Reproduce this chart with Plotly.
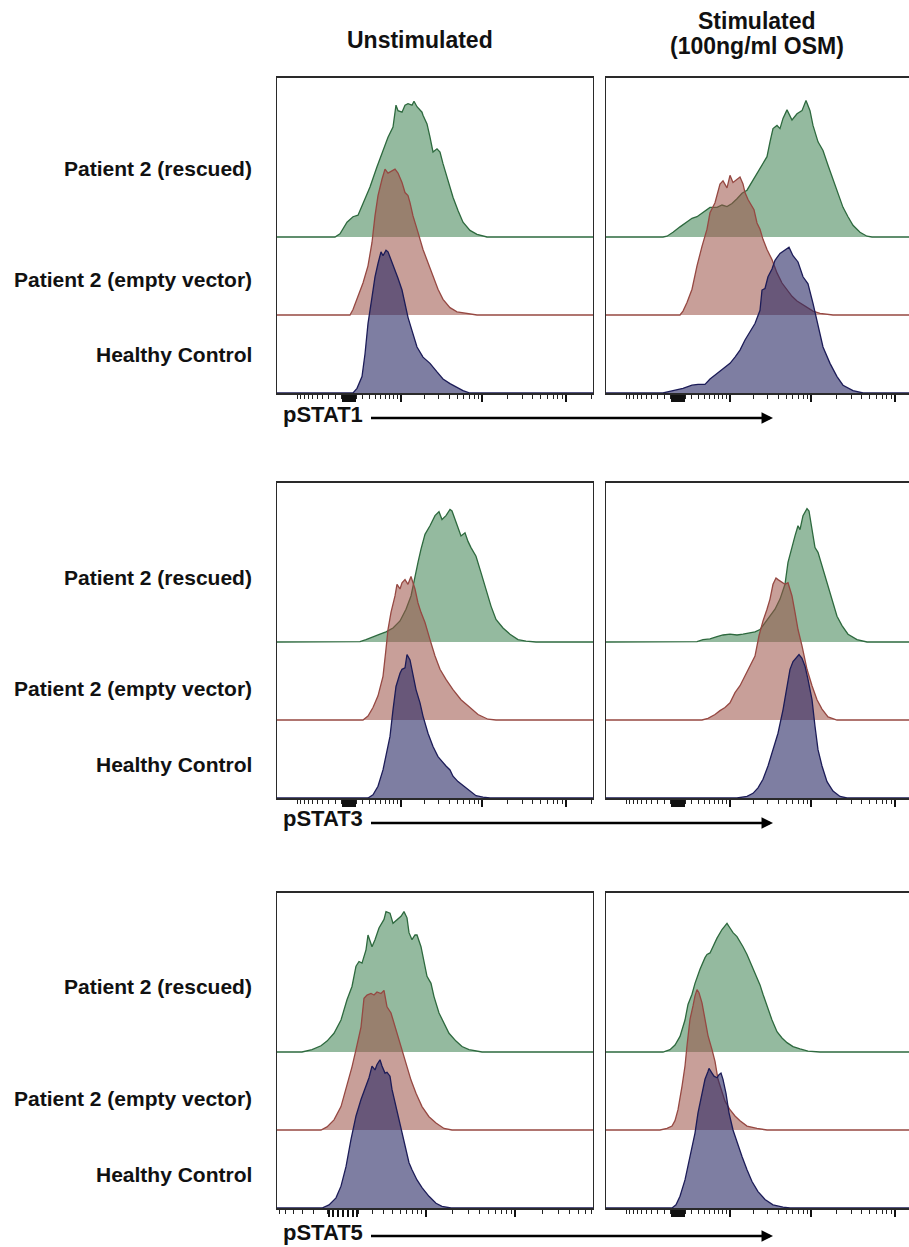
import numpy as np
import plotly.graph_objects as go

# ---------------- data (x = display position across panel, h = histogram height, band units) -------------
COLUMN_TITLES = ["Unstimulated", "Stimulated", "(100ng/ml OSM)"]
ROW_LABELS = ["Patient 2 (rescued)", "Patient 2 (empty vector)", "Healthy Control"]
MARKERS = ["pSTAT1", "pSTAT3", "pSTAT5"]

# pSTAT1 unstimulated
R1U_GREEN_X = [58, 63, 70, 76, 81, 86, 93, 100, 106, 111, 116, 119, 121, 125, 128, 131, 135, 137, 140, 145, 146, 150, 153, 156, 160, 163, 166, 171, 176, 181, 186, 193, 200, 210]
R1U_GREEN_H = [0, .04, .19, .26, .28, .43, .64, .90, 1.11, 1.28, 1.41, 1.69, 1.62, 1.60, 1.69, 1.71, 1.69, 1.74, 1.67, 1.60, 1.56, 1.45, 1.28, 1.09, 1.13, 1.09, .94, .73, .51, .34, .19, .085, .034, 0]
R1U_RED_X = [73, 76, 81, 86, 91, 95, 98, 101, 105, 108, 111, 115, 118, 121, 125, 128, 131, 133, 136, 141, 146, 151, 156, 161, 166, 173, 180, 193, 200]
R1U_RED_H = [0, .07, .24, .41, .63, .93, 1.27, 1.53, 1.74, 1.87, 1.82, 1.85, 1.87, 1.82, 1.70, 1.57, 1.53, 1.44, 1.27, 1.06, .84, .67, .50, .33, .20, .094, .04, .01, 0]
R1U_BLUE_X = [76, 80, 85, 88, 91, 95, 98, 101, 104, 106, 109, 111, 115, 118, 121, 125, 128, 131, 135, 140, 146, 153, 160, 166, 173, 180, 186, 193]
R1U_BLUE_H = [0, .06, .21, .50, .89, 1.23, 1.49, 1.66, 1.81, 1.76, 1.83, 1.81, 1.68, 1.57, 1.47, 1.32, 1.15, .97, .80, .59, .46, .38, .27, .18, .12, .07, .03, 0]

# pSTAT1 stimulated
R1S_GREEN_X = [57, 61, 67, 74, 81, 86, 91, 97, 104, 111, 116, 121, 126, 131, 136, 141, 146, 151, 156, 161, 164, 167, 171, 174, 177, 181, 186, 191, 196, 200, 204, 207, 212, 217, 222, 227, 232, 237, 242, 247, 254, 261, 266]
R1S_GREEN_H = [0, .01, .06, .13, .19, .24, .26, .32, .38, .38, .41, .39, .43, .49, .56, .60, .71, .81, .92, 1.03, 1.22, 1.39, 1.43, 1.39, 1.52, 1.63, 1.50, 1.58, 1.62, 1.75, 1.62, 1.43, 1.22, 1.11, .92, .73, .56, .38, .26, .15, .06, .01, 0]
R1S_RED_X = [74, 77, 81, 86, 91, 96, 101, 104, 109, 114, 117, 121, 124, 127, 131, 134, 137, 139, 142, 146, 148, 151, 154, 157, 161, 166, 171, 176, 181, 186, 191, 196, 201, 207, 214, 227]
R1S_RED_H = [0, .05, .16, .33, .63, .88, 1.10, 1.31, 1.44, 1.68, 1.72, 1.63, 1.79, 1.70, 1.74, 1.77, 1.68, 1.57, 1.48, 1.38, 1.35, 1.18, 1.10, .97, .84, .71, .54, .41, .33, .24, .18, .14, .09, .05, .02, 0]
R1S_BLUE_X = [57, 67, 77, 86, 92, 99, 104, 111, 117, 124, 129, 134, 139, 144, 149, 154, 156, 159, 162, 166, 169, 174, 179, 183, 187, 192, 197, 202, 207, 212, 217, 224, 231, 237, 247, 257]
R1S_BLUE_H = [0, .03, .06, .10, .11, .11, .18, .25, .31, .38, .46, .55, .68, .78, .89, 1.06, 1.32, 1.34, 1.49, 1.59, 1.70, 1.79, 1.83, 1.87, 1.76, 1.68, 1.49, 1.40, 1.15, .85, .59, .38, .21, .10, .03, 0]

# pSTAT3 unstimulated
R2U_GREEN_X = [79, 83, 89, 96, 103, 109, 116, 123, 129, 134, 138, 141, 144, 148, 153, 158, 162, 165, 169, 173, 175, 178, 181, 184, 188, 191, 194, 199, 204, 209, 214, 219, 226, 233, 241, 249, 259]
R2U_GREEN_H = [0, .004, .03, .07, .10, .13, .18, .27, .42, .59, .85, 1.02, 1.19, 1.38, 1.49, 1.62, 1.67, 1.57, 1.62, 1.70, 1.68, 1.57, 1.47, 1.36, 1.40, 1.29, 1.21, 1.10, .89, .68, .46, .29, .18, .10, .03, .01, 0]
R2U_RED_X = [86, 91, 96, 101, 106, 109, 111, 114, 118, 120, 123, 125, 128, 131, 134, 138, 141, 144, 148, 153, 158, 163, 169, 176, 184, 193, 201, 211, 219]
R2U_RED_H = [0, .05, .16, .31, .56, .91, 1.16, 1.38, 1.59, 1.74, 1.68, 1.76, 1.80, 1.74, 1.84, 1.68, 1.50, 1.38, 1.25, 1.03, .82, .65, .52, .39, .26, .16, .07, .01, 0]
R2U_BLUE_X = [91, 96, 101, 106, 109, 113, 116, 119, 123, 125, 128, 130, 133, 136, 139, 143, 146, 151, 156, 161, 166, 169, 173, 176, 181, 186, 193, 199, 206, 213]
R2U_BLUE_H = [0, .04, .15, .36, .53, .79, 1.13, 1.43, 1.60, 1.65, 1.67, 1.84, 1.77, 1.56, 1.39, 1.22, 1.05, .83, .66, .53, .45, .41, .36, .28, .21, .16, .09, .03, .01, 0]

# pSTAT3 stimulated
R2S_GREEN_X = [87, 91, 97, 104, 111, 117, 124, 131, 137, 144, 149, 154, 159, 164, 169, 174, 179, 182, 186, 189, 192, 194, 197, 201, 203, 206, 209, 212, 216, 221, 226, 231, 236, 242, 251, 261]
R2S_GREEN_H = [0, .004, .03, .04, .07, .09, .10, .09, .10, .12, .13, .16, .25, .33, .42, .55, .74, 1.02, 1.23, 1.36, 1.49, 1.44, 1.62, 1.71, 1.68, 1.44, 1.21, 1.15, .97, .76, .53, .33, .21, .10, .03, 0]
R2S_RED_X = [96, 102, 109, 114, 119, 124, 129, 134, 139, 144, 149, 153, 157, 161, 164, 167, 170, 172, 176, 179, 182, 186, 189, 192, 196, 201, 206, 211, 216, 222, 231]
R2S_RED_H = [0, .02, .07, .12, .16, .22, .35, .44, .56, .69, .82, 1.08, 1.27, 1.42, 1.55, 1.74, 1.82, 1.80, 1.76, 1.74, 1.76, 1.59, 1.38, 1.16, .95, .65, .44, .26, .14, .04, 0]
R2S_BLUE_X = [131, 141, 147, 152, 157, 162, 167, 172, 177, 181, 184, 187, 191, 193, 196, 199, 202, 206, 209, 212, 216, 221, 227, 234, 241]
R2S_BLUE_H = [0, .02, .06, .13, .24, .41, .62, .83, 1.13, 1.43, 1.65, 1.75, 1.82, 1.84, 1.79, 1.69, 1.52, 1.26, .92, .62, .41, .21, .09, .02, 0]

# pSTAT5 unstimulated
R3U_GREEN_X = [25, 35, 44, 50, 57, 64, 70, 75, 79, 82, 85, 89, 91, 95, 98, 102, 107, 109, 113, 116, 119, 124, 127, 130, 132, 135, 138, 140, 144, 147, 150, 154, 157, 162, 167, 172, 179, 185, 192, 205]
R3U_GREEN_H = [0, .03, .08, .14, .24, .41, .67, .84, 1.10, 1.16, 1.14, 1.31, 1.50, 1.35, 1.44, 1.59, 1.70, 1.80, 1.78, 1.65, 1.68, 1.74, 1.80, 1.72, 1.53, 1.44, 1.50, 1.50, 1.35, 1.14, .97, .88, .71, .50, .37, .24, .14, .07, .03, 0]
R3U_RED_X = [44, 50, 57, 64, 70, 75, 79, 84, 87, 90, 94, 97, 100, 104, 107, 110, 114, 117, 120, 124, 129, 134, 139, 145, 152, 159, 167, 175]
R3U_RED_H = [0, .04, .13, .30, .56, .81, 1.03, 1.32, 1.69, 1.73, 1.75, 1.73, 1.77, 1.75, 1.79, 1.58, 1.50, 1.37, 1.24, 1.07, .85, .64, .47, .30, .17, .09, .02, 0]
R3U_BLUE_X = [45, 52, 59, 64, 69, 74, 79, 84, 89, 92, 95, 98, 100, 103, 105, 108, 110, 113, 115, 119, 122, 125, 129, 132, 135, 140, 145, 152, 159, 165, 174]
R3U_BLUE_H = [0, .04, .13, .28, .53, .88, 1.18, 1.39, 1.56, 1.67, 1.82, 1.77, 1.84, 1.90, 1.82, 1.73, 1.74, 1.69, 1.52, 1.30, 1.13, .96, .75, .58, .49, .36, .26, .15, .06, .02, 0]

# pSTAT5 stimulated
R3S_GREEN_X = [57, 64, 69, 74, 79, 82, 86, 89, 94, 99, 101, 104, 107, 111, 116, 121, 124, 127, 131, 134, 137, 141, 144, 147, 151, 154, 157, 161, 166, 171, 176, 181, 187, 194, 202, 214]
R3S_GREEN_H = [0, .03, .09, .20, .41, .61, .74, .88, 1.06, 1.21, 1.25, 1.27, 1.35, 1.46, 1.57, 1.65, 1.59, 1.53, 1.48, 1.42, 1.35, 1.25, 1.16, 1.08, .97, .86, .74, .59, .41, .26, .18, .12, .07, .04, .01, 0]
R3S_RED_X = [54, 61, 66, 69, 72, 76, 79, 81, 84, 87, 89, 91, 93, 96, 99, 102, 106, 109, 112, 116, 119, 124, 129, 134, 141, 151, 161]
R3S_RED_H = [0, .02, .05, .12, .26, .56, .82, 1.08, 1.42, 1.59, 1.72, 1.80, 1.76, 1.63, 1.42, 1.21, 1.03, .88, .65, .48, .37, .26, .18, .12, .05, .02, 0]
R3S_BLUE_X = [66, 70, 74, 79, 84, 89, 92, 96, 99, 102, 103, 106, 108, 111, 113, 115, 117, 120, 123, 127, 129, 132, 136, 141, 146, 152, 159, 167, 177, 184]
R3S_BLUE_H = [0, .04, .15, .36, .66, .96, 1.22, 1.47, 1.65, 1.75, 1.79, 1.73, 1.69, 1.67, 1.71, 1.73, 1.65, 1.47, 1.22, 1.00, .92, .79, .66, .49, .34, .21, .11, .04, .01, 0]

# biexponential axis tick values (fluorescence units)
MAJOR_TICK_VALUES = [1e3, 1e4, 1e5]
NEAR_ZERO_TICKS = [-90, -60, -30, 0, 30, 60, 90]
TICK_MULTIPLIERS = [1, 2, 3, 4, 5, 6, 7, 8, 9]
TICK_DECADES = [100, 1000, 10000, 100000]

# ---------------- styling / layout -------------
FIG_W, FIG_H = 909, 1247
FONT = "Liberation Sans, Arial, Helvetica, sans-serif"
ROW_PIX = [(78, 393), (483, 798), (893, 1208)]
COL_PIX = [(277, 593), (606, 909)]
BAND = 78.0
STYLES = [  # green (top), red (middle), blue (bottom)
    dict(base=2, line="rgb(45,105,62)", fill="rgba(60,130,80,0.55)"),
    dict(base=1, line="rgb(150,72,66)", fill="rgba(155,80,70,0.55)"),
    dict(base=0, line="rgb(28,28,88)", fill="rgba(40,40,100,0.6)"),
]
# biexponential display params per panel: zero position, scale, linear width
AXIS_STD = (72.0, 36.3, 507.0)
AXIS_WIDE = (66.0, 39.1, 244.0)

PANELS = [
    (0, 0, [(R1U_GREEN_X, R1U_GREEN_H), (R1U_RED_X, R1U_RED_H), (R1U_BLUE_X, R1U_BLUE_H)], AXIS_STD),
    (0, 1, [(R1S_GREEN_X, R1S_GREEN_H), (R1S_RED_X, R1S_RED_H), (R1S_BLUE_X, R1S_BLUE_H)], AXIS_STD),
    (1, 0, [(R2U_GREEN_X, R2U_GREEN_H), (R2U_RED_X, R2U_RED_H), (R2U_BLUE_X, R2U_BLUE_H)], AXIS_STD),
    (1, 1, [(R2S_GREEN_X, R2S_GREEN_H), (R2S_RED_X, R2S_RED_H), (R2S_BLUE_X, R2S_BLUE_H)], AXIS_STD),
    (2, 0, [(R3U_GREEN_X, R3U_GREEN_H), (R3U_RED_X, R3U_RED_H), (R3U_BLUE_X, R3U_BLUE_H)], AXIS_WIDE),
    (2, 1, [(R3S_GREEN_X, R3S_GREEN_H), (R3S_RED_X, R3S_RED_H), (R3S_BLUE_X, R3S_BLUE_H)], AXIS_STD),
]


def biex(v, z, k, c):
    return z + k * np.arcsinh(np.asarray(v, dtype=float) / c)


major_vals = MAJOR_TICK_VALUES + NEAR_ZERO_TICKS
all_vals = sorted(set([m * d for d in TICK_DECADES for m in TICK_MULTIPLIERS]
                      + [-m * d for d in TICK_DECADES[:1] for m in TICK_MULTIPLIERS] + [-1000.0]))
minor_vals = [v for v in all_vals if v not in major_vals]

fig = go.Figure()
layout = dict(
    width=FIG_W, height=FIG_H, margin=dict(l=0, r=0, t=0, b=0),
    paper_bgcolor="white", plot_bgcolor="white", showlegend=False,
    font=dict(family=FONT, color="#111"),
)

for i, (r, c, curves, ax_par) in enumerate(PANELS):
    n = i + 1
    xa = "x" if n == 1 else f"x{n}"
    ya = "y" if n == 1 else f"y{n}"
    x0, x1 = COL_PIX[c]
    y0, y1 = ROW_PIX[r]
    width = x1 - x0
    ymax = (y1 - y0) / BAND
    for (xs, hs), st in zip(curves, STYLES):
        assert len(xs) == len(hs)
        xx = [0] + list(xs) + [width]
        yy = [st["base"]] + [st["base"] + h for h in hs] + [st["base"]]
        fig.add_trace(go.Scatter(
            x=xx, y=yy, xaxis=xa, yaxis=ya, mode="lines", fill="toself",
            fillcolor=st["fill"], line=dict(color=st["line"], width=1.3),
            hoverinfo="skip",
        ))
    z, k, cc = ax_par
    maj = [p for p in biex(major_vals, z, k, cc) if 0 <= p <= width]
    mnr = [p for p in biex(minor_vals, z, k, cc) if 0.5 <= p <= width - 0.5]
    layout["xaxis" if n == 1 else f"xaxis{n}"] = dict(
        domain=[x0 / FIG_W, x1 / FIG_W], range=[0, width], anchor=ya,
        showgrid=False, zeroline=False, showline=True, linecolor="#2a2a2a", linewidth=1.6,
        mirror=True, ticks="outside", tickmode="array", tickvals=maj, ticklen=7,
        tickwidth=1.5, tickcolor="#111", showticklabels=False,
        minor=dict(tickmode="array", tickvals=mnr, ticks="outside", ticklen=4,
                   tickwidth=1.2, tickcolor="#222", showgrid=False),
        fixedrange=True,
    )
    layout["yaxis" if n == 1 else f"yaxis{n}"] = dict(
        domain=[1 - y1 / FIG_H, 1 - y0 / FIG_H], range=[0, ymax], anchor=xa,
        showgrid=False, zeroline=False, showline=True, linecolor="#2a2a2a", linewidth=1.4,
        mirror=(c == 0), ticks="", showticklabels=False, fixedrange=True,
    )

ann = []


def px(xp):
    return xp / FIG_W


def py(yp):
    return 1 - yp / FIG_H


ann.append(dict(text=f"<b>{COLUMN_TITLES[0]}</b>", x=px(420), y=py(40), xref="paper", yref="paper",
                showarrow=False, xanchor="center", yanchor="middle", font=dict(size=23)))
ann.append(dict(text=f"<b>{COLUMN_TITLES[1]}</b>", x=px(757), y=py(21), xref="paper", yref="paper",
                showarrow=False, xanchor="center", yanchor="middle", font=dict(size=23)))
ann.append(dict(text=f"<b>{COLUMN_TITLES[2]}</b>", x=px(757), y=py(46), xref="paper", yref="paper",
                showarrow=False, xanchor="center", yanchor="middle", font=dict(size=23)))

LABEL_OFFSETS = [90, 201, 277]
for r, (ytop, ybot) in enumerate(ROW_PIX):
    extra = 0 if r == 0 else 4
    for lab, off in zip(ROW_LABELS, LABEL_OFFSETS):
        ann.append(dict(text=f"<b>{lab}</b>", x=px(254), y=py(ytop + off + extra), xref="paper", yref="paper",
                        showarrow=False, xanchor="right", yanchor="middle", font=dict(size=21)))
    line_y = ybot + 25 + (0 if r < 2 else 3)
    ann.append(dict(text=f"<b>{MARKERS[r]}</b>", x=px(281), y=py(line_y - 4), xref="paper", yref="paper",
                    showarrow=False, xanchor="left", yanchor="middle", font=dict(size=22)))
    ann.append(dict(text=" ", x=px(773), y=py(line_y), xref="paper", yref="paper",
                    showarrow=True, ax=-404, ay=0, arrowhead=2, arrowsize=0.85, arrowwidth=2.7,
                    arrowcolor="#000", standoff=0, startstandoff=0, font=dict(size=2)))

layout["annotations"] = ann
fig.update_layout(**layout)
fig.write_html("out.html", config={"displayModeBar": False},
               post_script="document.body.style.margin='0';document.body.style.overflow='hidden';")
